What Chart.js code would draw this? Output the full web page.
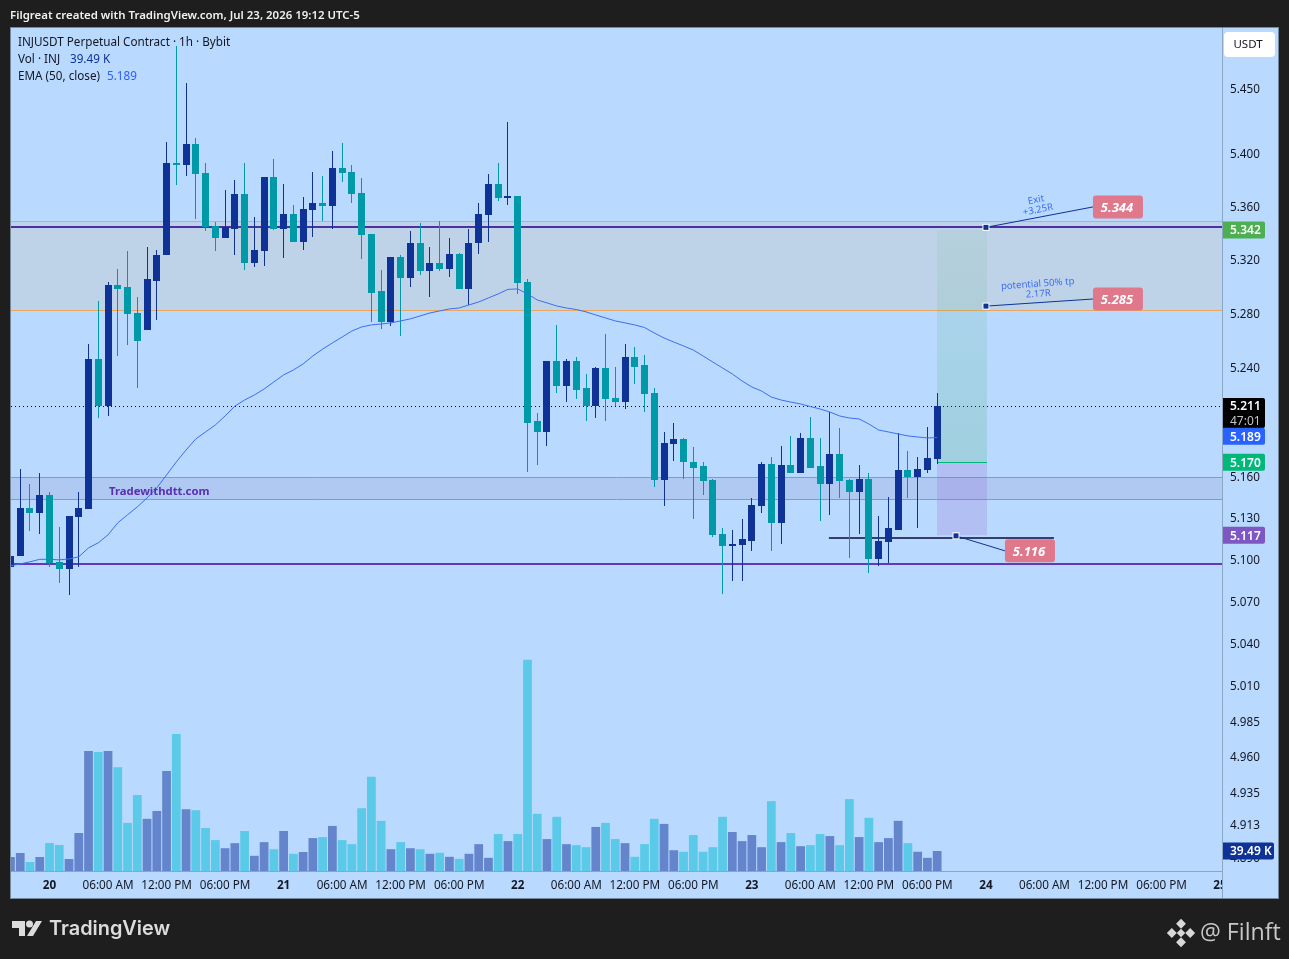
<!DOCTYPE html>
<html lang="en">
  <head>
    <meta charset="UTF-8" />
    <title>INJUSDT 1h</title>
    <style>
      html, body { margin: 0; padding: 0; background: #1e1e1e; }
      canvas { display: block; }
    </style>
  </head>
  <body>
    <canvas id="chart" width="1289" height="959"></canvas>
    <script src="https://cdn.jsdelivr.net/npm/chart.js"></script>
    <script>
      // candles run hourly, hour 0 is the "20" tick
      const firstHour = -4;
      const opens = [
        5.094,5.102,5.137,5.133,5.146,5.098,5.093,5.130,5.136,5.246,
        5.211,5.301,5.299,5.280,5.267,5.304,5.323,5.393,5.391,5.407,
        5.385,5.345,5.336,5.343,5.369,5.317,5.326,5.382,5.343,5.354,
        5.333,5.357,5.362,5.360,5.389,5.386,5.370,5.339,5.296,5.273,
        5.322,5.306,5.332,5.311,5.317,5.313,5.324,5.298,5.332,5.353,
        5.377,5.366,5.368,5.303,5.200,5.192,5.244,5.226,5.244,5.224,
        5.211,5.239,5.217,5.214,5.247,5.241,5.221,5.157,5.183,5.187,
        5.170,5.167,5.157,5.118,5.109,5.110,5.113,5.138,5.169,5.126,
        5.168,5.162,5.188,5.167,5.154,5.176,5.157,5.148,5.158,5.100,
        5.112,5.121,5.164,5.159,5.164,5.172,
      ];
      const highs = [
        5.102,5.165,5.154,5.162,5.148,5.123,5.131,5.148,5.257,5.289,
        5.303,5.313,5.326,5.292,5.329,5.327,5.409,5.482,5.454,5.412,
        5.393,5.348,5.372,5.380,5.393,5.352,5.382,5.396,5.377,5.361,
        5.367,5.386,5.383,5.402,5.408,5.391,5.381,5.339,5.312,5.322,
        5.323,5.341,5.347,5.329,5.349,5.336,5.325,5.343,5.362,5.384,
        5.393,5.424,5.368,5.305,5.206,5.244,5.271,5.246,5.247,5.235,
        5.240,5.264,5.240,5.257,5.255,5.249,5.224,5.192,5.199,5.188,
        5.181,5.170,5.158,5.122,5.121,5.129,5.144,5.170,5.174,5.182,
        5.189,5.191,5.203,5.188,5.207,5.195,5.158,5.168,5.162,5.131,
        5.145,5.191,5.178,5.174,5.196,5.221,
      ];
      const lows = [
        5.094,5.102,5.120,5.118,5.094,5.083,5.074,5.094,5.136,5.202,
        5.204,5.248,5.256,5.224,5.267,5.275,5.323,5.376,5.383,5.350,
        5.341,5.326,5.336,5.323,5.312,5.314,5.315,5.342,5.321,5.333,
        5.327,5.337,5.349,5.343,5.378,5.362,5.320,5.273,5.268,5.270,
        5.263,5.299,5.308,5.292,5.311,5.307,5.298,5.286,5.324,5.333,
        5.364,5.361,5.294,5.163,5.168,5.182,5.221,5.214,5.216,5.200,
        5.202,5.200,5.211,5.209,5.227,5.207,5.152,5.138,5.171,5.158,
        5.129,5.146,5.116,5.075,5.084,5.084,5.106,5.133,5.106,5.111,
        5.162,5.162,5.166,5.127,5.132,5.144,5.101,5.118,5.090,5.095,
        5.097,5.121,5.144,5.122,5.162,5.169,
      ];
      const closes = [
        5.102,5.137,5.133,5.146,5.097,5.093,5.131,5.137,5.246,5.211,
        5.301,5.298,5.279,5.259,5.305,5.323,5.393,5.391,5.407,5.384,
        5.344,5.336,5.344,5.369,5.317,5.327,5.382,5.343,5.354,5.333,
        5.358,5.362,5.360,5.389,5.385,5.369,5.338,5.295,5.273,5.322,
        5.306,5.332,5.311,5.317,5.313,5.324,5.298,5.332,5.354,5.377,
        5.366,5.368,5.302,5.199,5.192,5.244,5.226,5.244,5.223,5.211,
        5.239,5.216,5.214,5.247,5.240,5.220,5.157,5.184,5.187,5.170,
        5.166,5.156,5.117,5.109,5.111,5.114,5.139,5.169,5.126,5.168,
        5.162,5.188,5.166,5.154,5.176,5.156,5.148,5.158,5.100,5.113,
        5.122,5.164,5.159,5.165,5.173,5.211,
      ];
      // volume in thousands of INJ
      const volumes = [
        27.6,35.5,17.8,27.6,55.3,51.4,23.7,75,237,235,
        237,205,95,150,103,118.5,197.5,270.6,122,120,
        85,61,45,55,79,30,57,43,79,34,
        37.5,65,67,89,61,53,124,186,99,43,
        57,45,43,34,36,28,24,34,53,26,
        73,59,73,417,113,63,107,53,51,47,
        87,95,63,55,28,53,103,93,41,38,
        71,38,47,107,77,59,71,47,138,57,
        75,49,51,73,69,51,142,67,105,57,
        65,99,55,38,26,39.49,
      ];
      const ema50 = [
        5.0950,5.0964,5.0979,5.0997,5.0997,5.0993,5.1000,5.1015,5.1079,5.1116,
        5.1173,5.1260,5.1318,5.1375,5.1440,5.1513,5.1607,5.1702,5.1789,5.1870,
        5.1921,5.1972,5.2038,5.2110,5.2155,5.2192,5.2236,5.2288,5.2340,5.2376,
        5.2421,5.2480,5.2531,5.2576,5.2620,5.2665,5.2695,5.2710,5.2717,5.2725,
        5.2740,5.2755,5.2777,5.2799,5.2814,5.2829,5.2836,5.2859,5.2881,5.2911,
        5.2941,5.2975,5.2978,5.2941,5.2896,5.2874,5.2851,5.2836,5.2825,5.2807,
        5.2784,5.2762,5.2740,5.2725,5.2710,5.2691,5.2650,5.2613,5.2583,5.2554,
        5.2524,5.2480,5.2435,5.2391,5.2347,5.2295,5.2251,5.2221,5.2177,5.2155,
        5.2140,5.2126,5.2107,5.2089,5.2067,5.2038,5.2023,5.2016,5.1979,5.1935,
        5.1921,5.1906,5.1892,5.1884,5.1877,5.1880,
      ];
      const hours = opens.map((_, i) => firstHour + i);

      const priceTicks = [5.45,5.4,5.36,5.32,5.28,5.24,5.2,5.16,5.13,5.1,5.07,5.04,5.01,4.985,4.96,4.935,4.913,4.89];
      const timeTicks = [0,6,12,18,24,30,36,42,48,54,60,66,72,78,84,90,96,102,108,114,120];
      const timeLabels = ["20","06:00 AM","12:00 PM","06:00 PM","21","06:00 AM","12:00 PM","06:00 PM","22","06:00 AM","12:00 PM","06:00 PM","23","06:00 AM","12:00 PM","06:00 PM","24","06:00 AM","12:00 PM","06:00 PM","25"];

      // drawing tools on the chart, in price and hour units
      const upperZone = [5.349, 5.282];
      const lowerZone = [5.159, 5.143];
      const levels = [
        { price: 5.344, color: "#4c2fa3" },
        { price: 5.096, color: "#6538b8" },
      ];
      const lastPrice = 5.211;
      const stopLine = { from: 79.9, to: 102.97, price: 5.115 };
      const box = { from: 91.03, to: 96.14, target: 5.342, entry: 5.170, stop: 5.117 };
      const callouts = [
        { from: [96, 5.344], to: [106.97, 5.3594], text: "5.344" },
        { from: [96, 5.285], to: [106.97, 5.2903], text: "5.285" },
        { from: [92.93, 5.1166], to: [97.95, 5.1058], text: "5.116" },
      ];

      const UP = "#0e3296";
      const DOWN = "#0099a8";
      const UP_VOL = "#6485cc";
      const DOWN_VOL = "#5bc9e8";
      const PANEL = "#b9d9fe";
      const FONT = '"Noto Sans", sans-serif';

      const isUp = (i) => closes[i] >= opens[i];

      function snapCandles(chart) {
        // keep bodies and wicks on whole pixels like the original
        [1, 2].forEach((n) => {
          chart.getDatasetMeta(n).data.forEach((el) => {
            el.x = Math.floor(el.x) + 0.5;
            el.y = Math.round(el.y);
            el.base = Math.round(el.base);
            if (el.y === el.base) el.base += 1;
          });
        });
      }

      function hLine(ctx, x0, x1, y, color, width, dash) {
        const py = width === 1 ? Math.round(y) + 0.5 : Math.round(y);
        ctx.save();
        ctx.strokeStyle = color;
        ctx.lineWidth = width;
        ctx.setLineDash(dash || []);
        ctx.beginPath();
        ctx.moveTo(x0, py);
        ctx.lineTo(x1, py);
        ctx.stroke();
        ctx.restore();
      }

      function tag(ctx, y, text, color, w) {
        ctx.fillStyle = color;
        ctx.beginPath();
        ctx.roundRect(1222, y - 8.5, w || 43, 17, [0, 2, 2, 0]);
        ctx.fill();
        ctx.fillStyle = "#fff";
        ctx.font = "600 12px " + FONT;
        ctx.textAlign = "left";
        ctx.textBaseline = "middle";
        ctx.fillText(text, 1230, y + 1);
      }

      function slantText(ctx, x, y, angle, lines) {
        ctx.save();
        ctx.translate(x, y);
        ctx.rotate(angle);
        ctx.fillStyle = "#3d6ef0";
        ctx.font = "9.6px " + FONT;
        ctx.textAlign = "center";
        ctx.textBaseline = "middle";
        lines.forEach((t, i) => ctx.fillText(t, 0, i * 10 - 5));
        ctx.restore();
      }

      const overlay = {
        id: "overlay",
        afterDatasetsUpdate: snapCandles,
        beforeDraw(chart) {
          const ctx = chart.ctx;
          ctx.fillStyle = "#1e1e1e";
          ctx.fillRect(0, 0, 1289, 959);
          ctx.fillStyle = PANEL;
          ctx.fillRect(11, 28, 1267, 870);
        },
        beforeDatasetsDraw(chart) {
          const ctx = chart.ctx;
          const { x, y } = chart.scales;
          const { left, right } = chart.chartArea;
          const band = (z, fill, edge) => {
            const y0 = Math.round(y.getPixelForValue(z[0]));
            const y1 = Math.round(y.getPixelForValue(z[1]));
            ctx.fillStyle = fill;
            ctx.fillRect(left, y0, right - left, y1 - y0);
            hLine(ctx, left, right, y0, edge, 1);
            hLine(ctx, left, right, y1, edge, 1);
          };
          band(upperZone, "#bfd3e8", "#e8a860");
          band(lowerZone, "#afc9f3", "#9090d8");
          hLine(ctx, left, right, y.getPixelForValue(lastPrice), "#000", 1, [1, 3]);
          levels.forEach((l) => hLine(ctx, left, right, y.getPixelForValue(l.price), l.color, 2));
          const bx0 = Math.round(x.getPixelForValue(box.from));
          const bx1 = Math.round(x.getPixelForValue(box.to));
          const yTarget = y.getPixelForValue(box.target);
          const yEntry = y.getPixelForValue(box.entry);
          const yStop = y.getPixelForValue(box.stop);
          const profit = ctx.createLinearGradient(0, yTarget, 0, yEntry);
          profit.addColorStop(0, "rgba(60,170,100,0.08)");
          profit.addColorStop(1, "rgba(60,170,100,0.2)");
          ctx.fillStyle = profit;
          ctx.fillRect(bx0, yTarget, bx1 - bx0, yEntry - yTarget);
          ctx.fillStyle = "rgba(144,91,198,0.2)";
          ctx.fillRect(bx0, yEntry, bx1 - bx0, yStop - yEntry);
          hLine(ctx, bx0, bx1, yEntry, "#00b87a", 1);
          hLine(ctx, x.getPixelForValue(stopLine.from), x.getPixelForValue(stopLine.to), y.getPixelForValue(stopLine.price), "#0b0b3a", 1.5);
        },
        afterDraw(chart) {
          const ctx = chart.ctx;
          const { x, y } = chart.scales;

          // the cut-off tick label at the price axis
          ctx.fillStyle = PANEL;
          ctx.fillRect(1222, 871, 56, 27);

          // callouts
          callouts.forEach((c) => {
            const x0 = x.getPixelForValue(c.from[0]);
            const y0 = y.getPixelForValue(c.from[1]);
            const x1 = x.getPixelForValue(c.to[0]);
            const y1 = y.getPixelForValue(c.to[1]);
            ctx.strokeStyle = UP;
            ctx.lineWidth = 1;
            ctx.beginPath();
            ctx.moveTo(x0, y0);
            ctx.lineTo(x1, y1);
            ctx.stroke();
            ctx.fillStyle = "#fff";
            ctx.fillRect(x0 - 3.5, y0 - 3.5, 7, 7);
            ctx.fillStyle = UP;
            ctx.fillRect(x0 - 2.5, y0 - 2.5, 5, 5);
            ctx.fillStyle = "#e0788c";
            ctx.beginPath();
            ctx.roundRect(x1, y1 - 11.5, 50, 23, 3);
            ctx.fill();
            ctx.fillStyle = "#fff";
            ctx.font = "italic bold 13px " + FONT;
            ctx.textAlign = "center";
            ctx.textBaseline = "middle";
            ctx.fillText(c.text, x1 + 24, y1 + 1);
          });
          slantText(ctx, 1037, 205, -0.2, ["Exit", "+3.25R"]);
          slantText(ctx, 1038, 289, -0.07, ["potential 50% tp", "2.17R"]);

          ctx.fillStyle = "#5a2fb0";
          ctx.font = "bold 11.3px " + FONT;
          ctx.textAlign = "left";
          ctx.textBaseline = "middle";
          ctx.fillText("Tradewithdtt.com", 109, 492);

          // legend
          ctx.textBaseline = "middle";
          ctx.font = "11.7px " + FONT;
          ctx.fillStyle = "#131722";
          ctx.fillText("INJUSDT Perpetual Contract · 1h · Bybit", 18, 43);
          ctx.fillText("Vol · INJ", 18, 60);
          ctx.fillText("EMA (50, close)", 18, 77);
          ctx.fillStyle = UP;
          ctx.fillText("39.49 K", 70, 60);
          ctx.fillStyle = "#2962ff";
          ctx.fillText("5.189", 107, 77);

          // price axis tags
          tag(ctx, y.getPixelForValue(box.target), "5.342", "#4caf50");
          ctx.fillStyle = "#000";
          ctx.beginPath();
          ctx.roundRect(1222, 398, 43, 30, [0, 2, 2, 0]);
          ctx.fill();
          ctx.fillStyle = "#fff";
          ctx.font = "600 12px " + FONT;
          ctx.fillText("5.211", 1230, 407);
          ctx.fillStyle = "#c4c4c4";
          ctx.font = "12px " + FONT;
          ctx.fillText("47:01", 1230, 422);
          tag(ctx, y.getPixelForValue(5.189), "5.189", "#2962ff");
          tag(ctx, y.getPixelForValue(box.entry), "5.170", "#00b87a");
          tag(ctx, y.getPixelForValue(box.stop), "5.117", "#7e57c2");
          tag(ctx, 851, "39.49 K", UP, 52);

          // USDT button
          ctx.fillStyle = "#fff";
          ctx.beginPath();
          ctx.roundRect(1224, 32, 51, 25, 4);
          ctx.fill();
          ctx.fillStyle = "#131722";
          ctx.font = "11.5px " + FONT;
          ctx.textAlign = "center";
          ctx.fillText("USDT", 1248, 45);

          // frame
          ctx.strokeStyle = "#8aa6c4";
          ctx.lineWidth = 1;
          ctx.beginPath();
          ctx.moveTo(1222.5, 28);
          ctx.lineTo(1222.5, 898);
          ctx.moveTo(11, 871.5);
          ctx.lineTo(1222, 871.5);
          ctx.stroke();
          ctx.strokeStyle = "#75879b";
          ctx.strokeRect(10.5, 27.5, 1268, 871);

          // header and footer
          ctx.textAlign = "left";
          ctx.fillStyle = "#f0f0f0";
          ctx.font = "600 11.45px " + FONT;
          ctx.fillText("Filgreat created with TradingView.com, Jul 23, 2026 19:12 UTC-5", 10, 16);

          ctx.fillStyle = "#dcdcdc";
          ctx.beginPath();
          ctx.moveTo(12, 921);
          ctx.lineTo(25, 921);
          ctx.lineTo(25, 936);
          ctx.lineTo(19, 936);
          ctx.lineTo(19, 928);
          ctx.lineTo(12, 928);
          ctx.closePath();
          ctx.moveTo(36, 921);
          ctx.lineTo(42, 921);
          ctx.lineTo(33, 936);
          ctx.lineTo(27, 936);
          ctx.closePath();
          ctx.fill();
          ctx.beginPath();
          ctx.arc(29.5, 924, 3.5, 0, Math.PI * 2);
          ctx.fill();
          ctx.font = "600 19.9px Inter, sans-serif";
          ctx.fillText("TradingView", 49, 929);

          // exchange mark next to the handle
          ctx.save();
          ctx.translate(1181, 933);
          ctx.rotate(Math.PI / 4);
          ctx.fillStyle = "#d8d8d8";
          [[-10, -10, 7, 7], [3, 3, 7, 7], [-3, -3, 6, 6], [3, -10, 7, 7], [-10, 3, 7, 7]].forEach((r) => ctx.fillRect(r[0], r[1], r[2], r[3]));
          ctx.restore();
          ctx.fillStyle = "#c8c8c8";
          ctx.font = '23.2px "Open Sans", sans-serif';
          ctx.fillText("@ Filnft", 1200, 933);
        },
      };

      new Chart(document.getElementById("chart"), {
        type: "bar",
        data: {
          datasets: [
            {
              label: "Vol",
              yAxisID: "vol",
              order: 5,
              grouped: false,
              barThickness: 8.75,
              inflateAmount: 0,
              data: hours.map((h, i) => ({ x: h, y: volumes[i] })),
              backgroundColor: hours.map((_, i) => (isUp(i) ? UP_VOL : DOWN_VOL)),
            },
            {
              label: "Wick",
              yAxisID: "y",
              order: 3,
              grouped: false,
              barThickness: 1,
              inflateAmount: 0,
              data: hours.map((h, i) => ({ x: h, y: [lows[i], highs[i]] })),
              backgroundColor: hours.map((_, i) => (isUp(i) ? UP : DOWN)),
            },
            {
              label: "Body",
              yAxisID: "y",
              order: 2,
              grouped: false,
              barThickness: 7,
              inflateAmount: 0,
              data: hours.map((h, i) => ({ x: h, y: [opens[i], closes[i]] })),
              backgroundColor: hours.map((_, i) => (isUp(i) ? UP : DOWN)),
            },
            {
              type: "line",
              label: "EMA",
              yAxisID: "y",
              order: 1,
              data: hours.map((h, i) => ({ x: h, y: ema50[i] })),
              borderColor: "#3d6ef0",
              borderWidth: 1,
              pointRadius: 0,
              tension: 0,
            },
          ],
        },
        options: {
          responsive: false,
          animation: false,
          events: [],
          layout: { padding: { left: 11, top: 28, right: 11, bottom: 61 } },
          plugins: { legend: { display: false }, tooltip: { enabled: false } },
          scales: {
            x: {
              type: "linear",
              offset: false,
              min: -3.947,
              max: 120.2,
              grid: { display: false },
              border: { display: false },
              afterBuildTicks: (s) => { s.ticks = timeTicks.map((v) => ({ value: v })); },
              afterFit: (s) => { s.height = 27; },
              ticks: {
                autoSkip: false,
                maxRotation: 0,
                padding: 0,
                color: "#131722",
                font: (c) => ({ family: FONT, size: 11.7, weight: c.tick && c.tick.value % 24 === 0 ? "bold" : "normal" }),
                callback: (v) => timeLabels[timeTicks.indexOf(v)],
              },
            },
            y: {
              type: "logarithmic",
              position: "right",
              bounds: "data",
              min: 4.8805,
              max: 5.4963,
              grid: { display: false },
              border: { display: false },
              afterBuildTicks: (s) => { s.ticks = priceTicks.map((v) => ({ value: v })); },
              afterFit: (s) => { s.width = 56; },
              ticks: {
                autoSkip: false,
                padding: 0,
                labelOffset: 1.5,
                color: "#131722",
                font: { family: FONT, size: 11.7 },
                callback: (v) => v.toFixed(3),
              },
            },
            vol: { display: false, min: 0, max: 1665 },
          },
        },
        plugins: [overlay],
      });
    </script>
  </body>
</html>
